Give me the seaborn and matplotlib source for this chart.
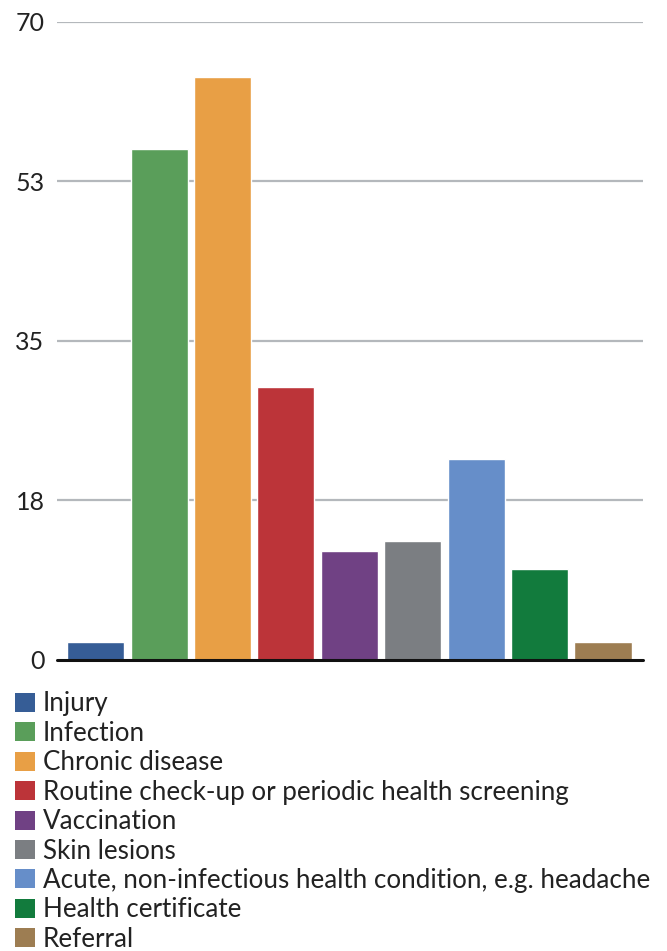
import matplotlib
matplotlib.use("Agg")
import matplotlib.pyplot as plt
import matplotlib.patches as mpatches
import seaborn as sns
import pandas as pd

categories = ["Injury", "Infection", "Chronic disease",
              "Routine check-up or periodic health screening", "Vaccination",
              "Skin lesions", "Acute, non-infectious health condition, e.g. headache",
              "Health certificate", "Referral"]
values = [2, 56, 64, 30, 12, 13, 22, 10, 2]
colors = ["#365d96", "#5a9e5a", "#e89f45", "#bc3439", "#704184",
          "#7b7e82", "#668ec9", "#127b3d", "#9d7d52"]
ytick_vals = [0, 17.5, 35, 52.5, 70]
ytick_labels = ["0", "18", "35", "53", "70"]

sns.set_theme(style="white")
plt.rcParams["font.family"] = ["Lato", "DejaVu Sans"]

df = pd.DataFrame({"cat": categories, "val": values})

fig = plt.figure(figsize=(6.67, 9.51), dpi=100)
ax = fig.add_axes([0.0855, 0.306, 0.964 - 0.0855, 0.977 - 0.306])
sns.barplot(data=df, x="cat", y="val", hue="cat", palette=colors,
            order=categories, hue_order=categories, legend=False,
            width=0.9, saturation=1, ax=ax)

ax.set_ylim(0, 70)
ax.set_xlim(-0.61, 8.63)
ax.set_yticks(ytick_vals)
ax.set_yticklabels(ytick_labels, fontsize=18, color="#222222")
ax.set_xticks([])
ax.set_xlabel("")
ax.set_ylabel("")
for v in ytick_vals[1:]:
    ax.axhline(v, color="#b4b8bc", linewidth=1.6, zorder=0)
ax.axhline(0, color="#111111", linewidth=2.2, zorder=5, clip_on=False)
for s in ["top", "right", "left", "bottom"]:
    ax.spines[s].set_visible(False)
ax.tick_params(axis="y", length=0, pad=9)

handles = [mpatches.Patch(facecolor=c, edgecolor="none", label=l)
           for c, l in zip(colors, categories)]
fig.legend(handles=handles, loc="upper left",
           bbox_to_anchor=(0.022, 1 - 691.5 / 951), frameon=False,
           fontsize=18.7, handlelength=0.78, handleheight=0.74,
           handletextpad=0.3, labelspacing=0.17, borderpad=0,
           borderaxespad=0, labelcolor="#222222")

fig.savefig("out.png", dpi=100)
